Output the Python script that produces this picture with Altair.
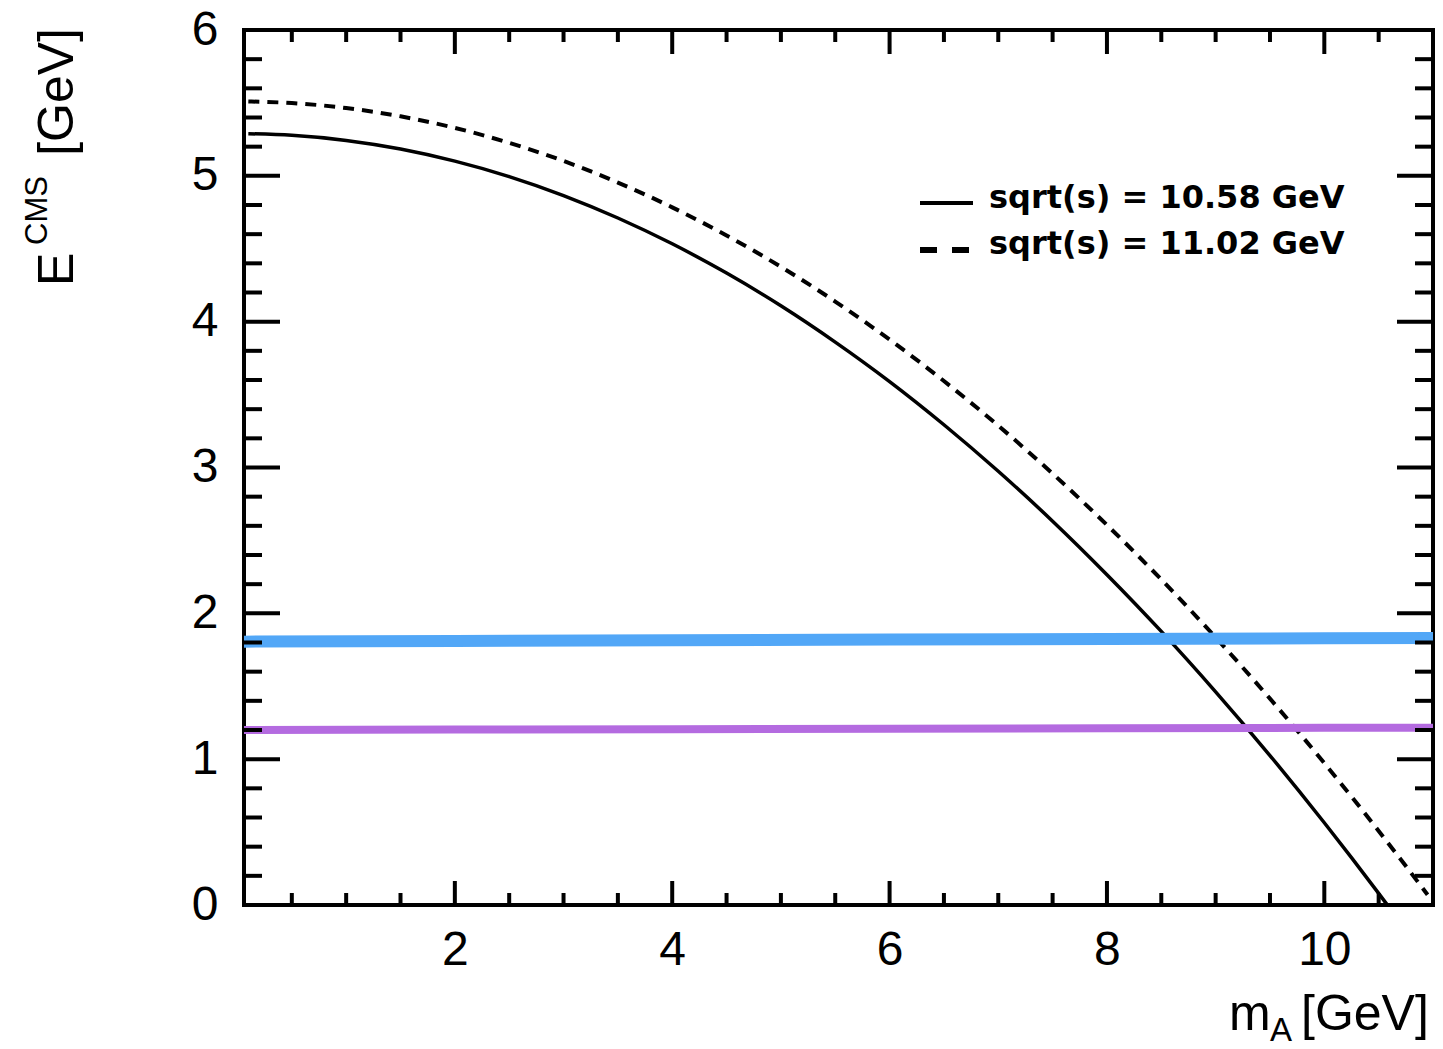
import altair as alt
import pandas as pd

# ---- data ----
mA_solid = [0.1, 0.5, 1.0, 1.5, 2.0, 2.5, 3.0, 3.5, 4.0, 4.5, 5.0, 5.5, 6.0, 6.5,
            7.0, 7.5, 8.0, 8.5, 9.0, 9.5, 10.0, 10.25, 10.5, 10.58]
E_solid = [5.289, 5.278, 5.243, 5.184, 5.101, 4.995, 4.865, 4.711, 4.534, 4.333,
           4.109, 3.860, 3.589, 3.293, 2.974, 2.632, 2.265, 1.876, 1.462, 1.025,
           0.564, 0.325, 0.080, 0.0]

mA_dashed = [0.1, 0.5, 1.0, 1.5, 2.0, 2.5, 3.0, 3.5, 4.0, 4.5, 5.0, 5.5, 6.0, 6.5,
             7.0, 7.5, 8.0, 8.5, 9.0, 9.5, 10.0, 10.5, 10.75, 10.95]
E_dashed = [5.510, 5.499, 5.465, 5.408, 5.329, 5.226, 5.102, 4.954, 4.784, 4.591,
            4.376, 4.138, 3.877, 3.593, 3.287, 2.958, 2.606, 2.232, 1.835, 1.415,
            0.973, 0.508, 0.267, 0.070]

band_x = [0.06, 2.0, 4.0, 6.0, 8.0, 10.0, 11.0]
band_blue = [1.806, 1.810, 1.815, 1.820, 1.824, 1.829, 1.831]
band_purple = [1.200, 1.203, 1.206, 1.209, 1.212, 1.215, 1.216]

x_major = [2, 4, 6, 8, 10]
x_minor = [0.5, 1.0, 1.5, 2.5, 3.0, 3.5, 4.5, 5.0, 5.5, 6.5, 7.0, 7.5,
           8.5, 9.0, 9.5, 10.5]
y_major = [0, 1, 2, 3, 4, 5, 6]
y_minor = [round(0.2 * i, 1) for i in range(31) if i % 5 != 0]

legend_labels = ["sqrt(s) = 10.58 GeV", "sqrt(s) = 11.02 GeV"]

# plot area placement (page has 8px margin)
PAD_L, PAD_T = 236, 22
W, H = 1189, 875
XDOM = [0.06, 11.0]
YDOM = [0, 6]
FONT = "Liberation Sans"
OX, OY = 8 + PAD_L, 8 + PAD_T  # absolute page position of plot origin

xs = alt.Scale(domain=XDOM, nice=False, zero=False)
ys = alt.Scale(domain=YDOM, nice=False, zero=False)

ax_x = alt.Axis(values=x_major, ticks=False, tickSize=0, domain=False,
                grid=False, title=None, labelFontSize=48, labelFont=FONT,
                labelColor="black", labelPadding=21, format="d")
ax_y = alt.Axis(values=y_major, ticks=False, tickSize=0, domain=False,
                grid=False, title=None, labelFontSize=48, labelFont=FONT,
                labelColor="black", labelPadding=26, format="d")

def X(f):
    return alt.X(f, scale=xs, axis=ax_x)

def Y(f):
    return alt.Y(f, scale=ys, axis=ax_y)

df_solid = pd.DataFrame({"m": mA_solid, "E": E_solid})
df_dashed = pd.DataFrame({"m": mA_dashed, "E": E_dashed})
df_blue = pd.DataFrame({"m": band_x, "E": band_blue})
df_purple = pd.DataFrame({"m": band_x, "E": band_purple})

solid = alt.Chart(df_solid).mark_line(
    color="black", strokeWidth=3.5, interpolate="monotone"
).encode(x=X("m:Q"), y=Y("E:Q"))

dashed = alt.Chart(df_dashed).mark_line(
    color="black", strokeWidth=4, strokeDash=[11, 8], interpolate="monotone"
).encode(x=X("m:Q"), y=Y("E:Q"))

blue = alt.Chart(df_blue).mark_line(color="#52a7f7", strokeWidth=12).encode(
    x=X("m:Q"), y=Y("E:Q"))
purple = alt.Chart(df_purple).mark_line(color="#b46be0", strokeWidth=8).encode(
    x=X("m:Q"), y=Y("E:Q"))

# ---- inward ticks on all four sides ----
def xticks(vals, y0, y1):
    return alt.Chart(pd.DataFrame({"v": vals})).mark_rule(
        color="black", strokeWidth=4).encode(
        x=X("v:Q"), y=alt.value(y0), y2=alt.value(y1))

def yticks(vals, x0, x1):
    return alt.Chart(pd.DataFrame({"v": vals})).mark_rule(
        color="black", strokeWidth=4).encode(
        y=Y("v:Q"), x=alt.value(x0), x2=alt.value(x1))

ticks = [
    xticks(x_major, H, H - 24), xticks(x_minor, H, H - 12),
    xticks(x_major, 0, 24), xticks(x_minor, 0, 12),
    yticks(y_major, 0, 36), yticks(y_minor, 0, 18),
    yticks(y_major, W, W - 36), yticks(y_minor, W, W - 18),
]

# ---- titles built from text pieces (positions given in page pixels) ----
def txt(s, ax, ay, size, angle=0, align="left", font=FONT, weight="normal"):
    return alt.Chart(pd.DataFrame({"t": [s]})).mark_text(
        font=font, fontSize=size, angle=angle, align=align,
        baseline="alphabetic", color="black", fontWeight=weight).encode(
        x=alt.value(ax - OX), y=alt.value(ay - OY), text="t:N")

titles = [
    txt("m", 1229, 1030, 50),
    txt("A", 1270, 1041, 33),
    txt("[GeV]", 1301, 1030, 50),
    txt("E", 73, 286, 50, angle=270),
    txt("CMS", 47, 245, 31, angle=270),
    txt("[GeV]", 73, 28, 50, angle=270, align="right"),
]

# ---- legend ----
leg_solid = alt.Chart(pd.DataFrame({"t": [0]})).mark_rule(
    color="black", strokeWidth=4).encode(
    x=alt.value(920 - OX), x2=alt.value(973 - OX), y=alt.value(203 - OY))
leg_dashed = alt.Chart(pd.DataFrame({"t": [0]})).mark_rule(
    color="black", strokeWidth=6, strokeDash=[17, 15]).encode(
    x=alt.value(920 - OX), x2=alt.value(969 - OX), y=alt.value(250 - OY))
leg_text = [
    txt(legend_labels[0], 989, 208, 32, font="DejaVu Sans", weight="bold"),
    txt(legend_labels[1], 989, 254, 32, font="DejaVu Sans", weight="bold"),
]

chart = alt.layer(
    solid, dashed, blue, purple, *ticks, *titles, leg_solid, leg_dashed, *leg_text
).properties(
    width=W, height=H,
    autosize=alt.AutoSizeParams(type="none"),
    padding={"left": PAD_L, "top": PAD_T, "right": 2, "bottom": 136},
    background="white",
).configure_view(stroke="black", strokeWidth=4)

chart.save("out.html", embed_options={"renderer": "svg", "actions": False})
